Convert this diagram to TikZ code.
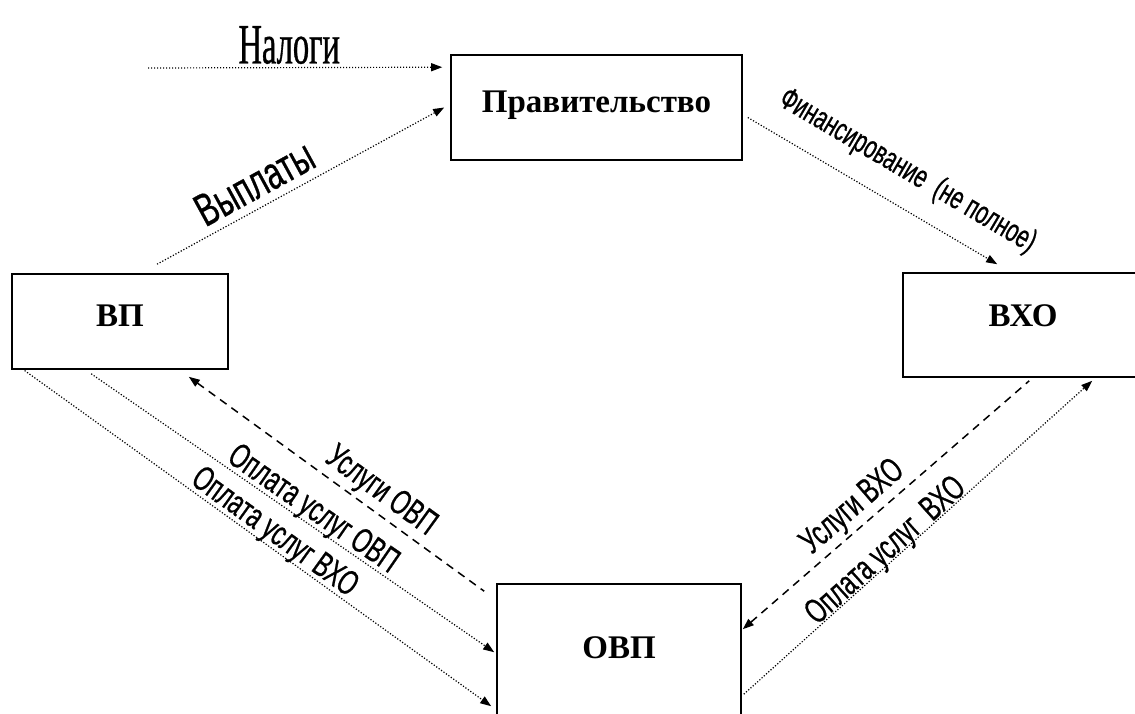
\documentclass[tikz,border=0pt]{standalone}
\usepackage{fontspec}
\setmainfont{Liberation Serif}
\newfontfamily\narrowsans[FakeStretch=0.66, FakeBold=0.6]{Liberation Sans}
\newfontfamily\narrowserif[FakeStretch=0.57, FakeBold=0.6]{Liberation Serif}
\usetikzlibrary{positioning, calc, arrows.meta}

\tikzset{
  box/.style={draw, rectangle, line width=1.6pt, inner sep=0pt,
    font=\bfseries\fontsize{33}{33}\selectfont, text height=22pt, text depth=12pt},
  flow/.style={->, line width=1.2pt, dash pattern=on 1.2pt off 1.8pt},
  serv/.style={<-, line width=1.5pt, dash pattern=on 8pt off 6pt},
  lbl/.style={font=\narrowsans\fontsize{35}{35}\selectfont, inner sep=0pt, sloped}
}

\begin{document}
\begin{tikzpicture}[x=1pt,y=-1pt,>={Triangle[length=11pt,width=8pt]}]
  \useasboundingbox (0,0) rectangle (1135,713);

  \node[box, minimum width=291pt, minimum height=105pt] (gov) at (596.5,107.5) {Правительство};
  \node[box, minimum width=216pt, minimum height=95pt] (vp) at (120,321.5) {ВП};
  \node[box, minimum width=240pt, minimum height=104pt, text depth=20pt] (vho) at (1023,325) {ВХО};
  \node[box, minimum width=244pt, minimum height=160pt, text depth=34pt] (ovp) at (619,664) {ОВП};
  \coordinate (tax) at (148,68);

  \path (tax) edge[flow] node[pos=0.48, above=3pt, inner sep=0pt,
          font=\narrowserif\fontsize{57}{57}\selectfont] {Налоги} ($(gov.north west)+(-8,13)$)
        ($(vp.north)+(37,-9)$) edge[flow] node[lbl, pos=0.38, above=8pt,
          font=\narrowsans\fontsize{46}{46}\selectfont] {Выплаты} ($(gov.west)+(-6,0)$)
        ($(gov.east)+(5,10)$) edge[flow] node[lbl, pos=0.57, above=19pt,
          font=\narrowsans\fontsize{32}{32}\selectfont] {Финансирование~ (не полное)} ($(vho.north west)+(95,-8)$)
        ($(vp.south east)+(-40,7)$) edge[serv] node[lbl, pos=0.61, above=3pt] {Услуги ОВП} ($(ovp.north west)+(-12,8)$)
        ($(vp.south west)+(80,4)$) edge[flow] node[lbl, pos=0.53, above=-3pt] {Оплата услуг ОВП} ($(ovp.north west)+(-2,69)$)
        ($(vp.south west)+(11,-1)$) edge[flow] node[lbl, pos=0.52, above=-3pt] {Оплата услуг ВХО} ($(ovp.north west)+(-5,123)$)
        ($(ovp.north east)+(1,46)$) edge[serv] node[lbl, pos=0.43, above=3pt] {Услуги ВХО} ($(vho.south west)+(127,3)$)
        ($(ovp.north east)+(2,111)$) edge[flow] node[lbl, pos=0.43, above=-6pt] {Оплата услуг~ ВХО} ($(vho.south west)+(190,3)$);

\end{tikzpicture}
\end{document}
